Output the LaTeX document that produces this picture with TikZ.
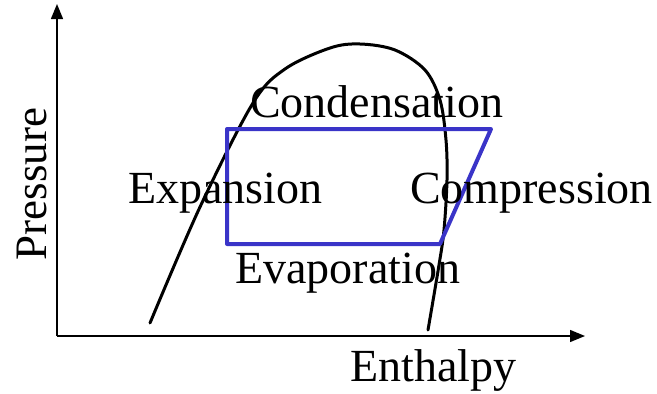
\documentclass[tikz,border=0pt]{standalone}
\usepackage{fontspec}
\setmainfont{Liberation Serif}
\usetikzlibrary{arrows.meta}
\definecolor{cycleblue}{RGB}{58,52,200}
\tikzset{
  axis/.style={line width=1.4pt,-{Triangle[length=15pt,width=12pt]}},
  dome/.style={line width=3pt,line cap=round},
  cyclepath/.style={line width=4pt,draw=cycleblue,line join=round},
  lbl/.style={inner sep=0pt,anchor=base west,font=\fontsize{46}{50}\selectfont}
}
\begin{document}
\begin{tikzpicture}[x=1pt,y=-1pt]
\useasboundingbox (0,0) rectangle (657,394);
\coordinate (O) at (57,336);
\coordinate (ytip) at (57,4);
\coordinate (xtip) at (585,336);
\draw[axis] (O) -- (ytip);
\draw[axis] (O) -- (xtip);
\draw[dome] plot[smooth,tension=0.55] coordinates {(150,323) (200,207) (253,103) (285,69) (330,48) (360,44) (395,50) (425,70) (440,100) (446,140) (447,180) (444,230) (439,265) (428,330)};
\coordinate (A) at (227,129);
\coordinate (B) at (491,129);
\coordinate (C) at (440,244);
\coordinate (D) at (227,244);
\draw[cyclepath] (A) -- (B) -- (C) -- (D) -- cycle;
\node[lbl] (cond) at (250,117) {Condensation};
\node[lbl] (exp) at (128,203) {Expansion};
\node[lbl] (comp) at (410,203) {Compression};
\node[lbl] (evap) at (235,283) {Evaporation};
\node[lbl] (enth) at (350,381) {Enthalpy};
\node[inner sep=0pt,anchor=base,rotate=90,font=\fontsize{45}{50}\selectfont] (pres) at (46,184) {Pressure};
\end{tikzpicture}
\end{document}
